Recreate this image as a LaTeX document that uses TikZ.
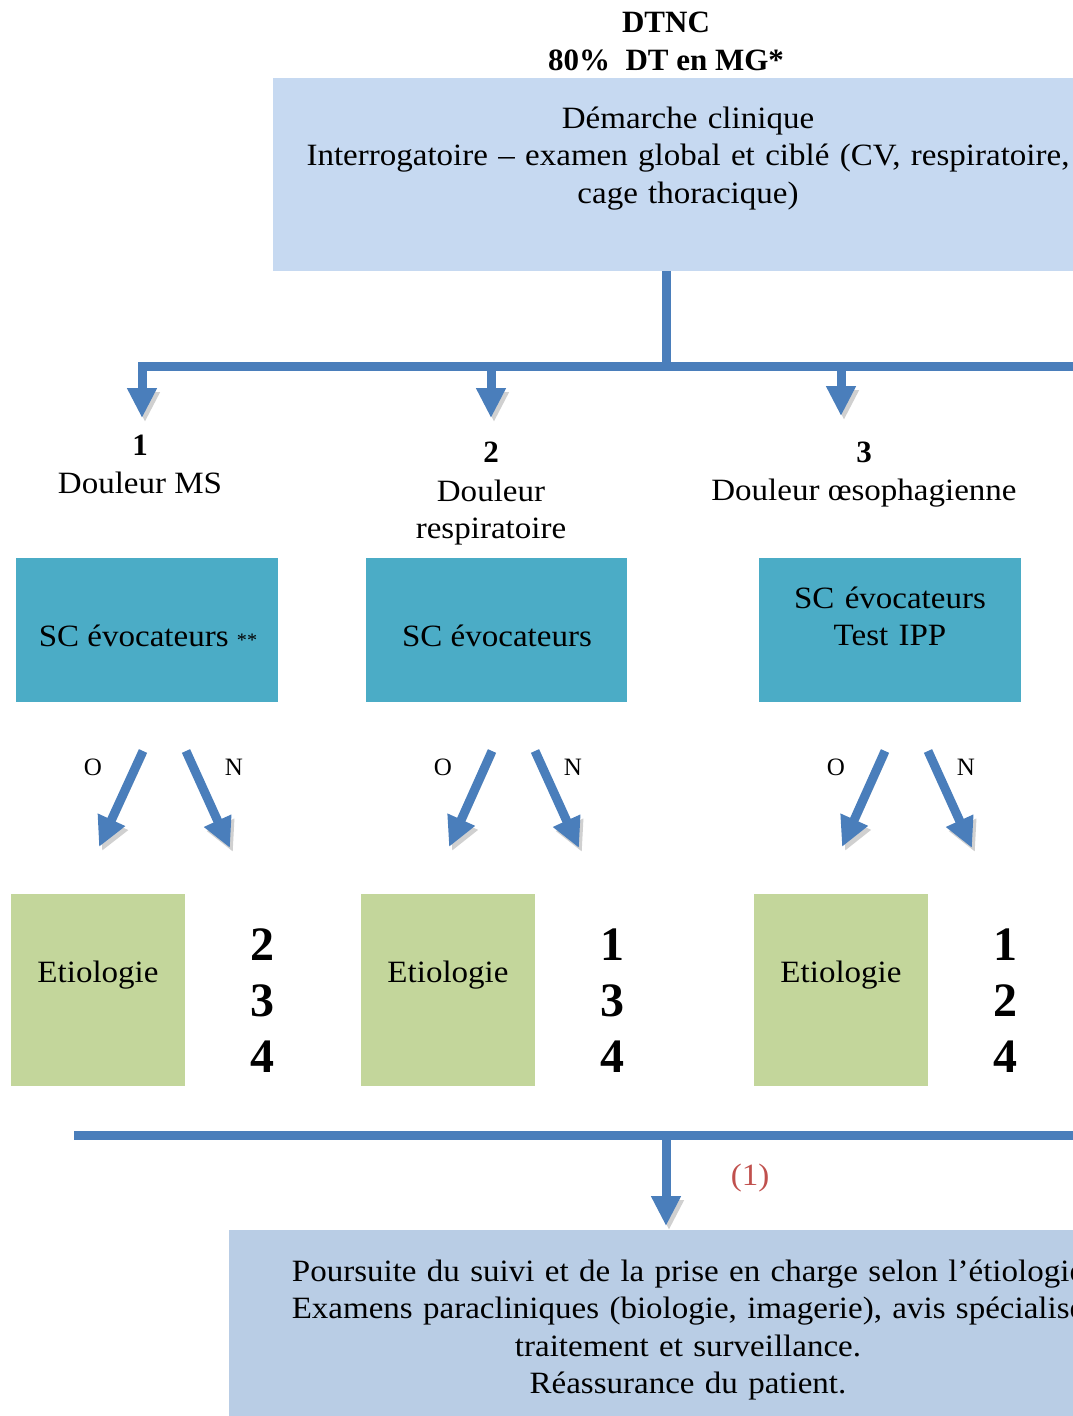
\documentclass[tikz,border=0pt]{standalone}
\usepackage{fontspec}
\setmainfont{Liberation Serif}
\newfontfamily\wfont{Liberation Serif}[FakeStretch=1.065]
\usetikzlibrary{arrows.meta}
\definecolor{arrblue}{HTML}{4A7EBB}
\definecolor{shgrey}{HTML}{D0D0D0}
\definecolor{topblue}{HTML}{C6D9F1}
\definecolor{botblue}{HTML}{B9CDE5}
\definecolor{scteal}{HTML}{4BACC6}
\definecolor{etgreen}{HTML}{C3D69B}
\definecolor{redlab}{HTML}{C0504D}
\begin{document}
\begin{tikzpicture}[x=1pt,y=-1pt,
  flow/.style={draw=arrblue, line width=9pt, line join=miter,
    preaction={draw=shgrey, transform canvas={shift={(3pt,-4pt)}}}},
  arr/.style={flow, -{Triangle[width=28pt,length=30pt]}},
  txt/.style={font=\wfont\fontsize{31}{37.5}\selectfont, inner sep=0pt, anchor=base, align=center},
  btxt/.style={font=\fontsize{31}{37.5}\selectfont\bfseries, inner sep=0pt, anchor=base, align=center},
  big/.style={font=\fontsize{48}{56}\selectfont\bfseries, inner sep=0pt, anchor=base, align=center},
  small/.style={font=\fontsize{25}{30}\selectfont, inner sep=0pt, anchor=base},
  box/.style={anchor=north west, inner sep=0pt, draw=none}
]
\useasboundingbox (0,0) rectangle (1073,1416);

% titles
\node[btxt] (t1) at (666,32) {DTNC};
\node[btxt] (t2) at (666,70) {80\%~ DT en MG*};

% top box
\node[box, fill=topblue, minimum width=830pt, minimum height=193pt] (topbox) at (273,78) {};
\node[txt, text width=900pt] (toptext) at (688,128) {Démarche clinique\\Interrogatoire – examen global et ciblé (CV, respiratoire,\\cage thoracique)};

% connectors top
\coordinate (c0) at (666,271);
\coordinate (j0) at (666,366);
\coordinate (barR) at (1100,366);
\coordinate (b1) at (142,366);
\coordinate (a1) at (142,418);
\coordinate (b2) at (491,366);
\coordinate (a2) at (491,418);
\coordinate (b3) at (841,366);
\coordinate (a3) at (841,416);
\draw[flow] (c0) -- (j0);
\draw[arr] (barR) -- (b1) -- (a1);
\draw[arr] (b2) -- (a2);
\draw[arr] (b3) -- (a3);

% category labels
\node[btxt] (n1) at (140,455) {1};
\node[txt] (l1) at (140,493) {Douleur MS};
\node[btxt] (n2) at (491,462) {2};
\node[txt, text width=300pt] (l2) at (491,501) {Douleur\\respiratoire};
\node[btxt] (n3) at (864,462) {3};
\node[txt] (l3) at (864,500) {Douleur œsophagienne};

% teal boxes
\node[box, fill=scteal, minimum width=262pt, minimum height=144pt] (s1) at (16,558) {};
\node[box, fill=scteal, minimum width=261pt, minimum height=144pt] (s2) at (366,558) {};
\node[box, fill=scteal, minimum width=262pt, minimum height=144pt] (s3) at (759,558) {};
\node[txt] (s1t) at (148,646) {SC évocateurs {\fontsize{19}{20}\selectfont **}};
\node[txt] (s2t) at (497,646) {SC évocateurs};
\node[txt, text width=260pt] (s3t) at (890,608) {SC évocateurs\\Test IPP};

% O / N arrows
\coordinate (o1s) at (143,751); \coordinate (o1e) at (99,847);
\coordinate (n1s) at (186,751); \coordinate (n1e) at (230,848);
\coordinate (o2s) at (492,751); \coordinate (o2e) at (449,847);
\coordinate (n2s) at (535,751); \coordinate (n2e) at (579,848);
\coordinate (o3s) at (885,751); \coordinate (o3e) at (842,847);
\coordinate (n3s) at (928,751); \coordinate (n3e) at (972,848);
\foreach \i in {1,2,3}{
  \draw[arr] (o\i s) -- (o\i e);
  \draw[arr] (n\i s) -- (n\i e);
}
\node[small] (lo1) at (93,775) {O};
\node[small] (ln1) at (234,775) {N};
\node[small] (lo2) at (443,775) {O};
\node[small] (ln2) at (573,775) {N};
\node[small] (lo3) at (836,775) {O};
\node[small] (ln3) at (966,775) {N};

% etiologie boxes
\node[box, fill=etgreen, minimum width=174pt, minimum height=192pt] (e1) at (11,894) {};
\node[box, fill=etgreen, minimum width=174pt, minimum height=192pt] (e2) at (361,894) {};
\node[box, fill=etgreen, minimum width=174pt, minimum height=192pt] (e3) at (754,894) {};
\node[txt] (e1t) at (98,982) {Etiologie};
\node[txt] (e2t) at (448,982) {Etiologie};
\node[txt] (e3t) at (841,982) {Etiologie};

% numbers
\node[big, text width=60pt] (d1) at (262,960) {2\\3\\4};
\node[big, text width=60pt] (d2) at (612,960) {1\\3\\4};
\node[big, text width=60pt] (d3) at (1005,960) {1\\2\\4};

% bottom connectors
\coordinate (bl) at (74,1135);
\coordinate (br) at (1100,1135);
\coordinate (bj) at (666,1135);
\coordinate (ba) at (666,1226);
\draw[flow] (bl) -- (br);
\draw[arr] (bj) -- (ba);
\node[txt, text=redlab] (ref) at (750,1185) {(1)};

% bottom box
\node[box, fill=botblue, minimum width=918pt, minimum height=200pt] (botbox) at (229,1230) {};
\node[txt, text width=950pt] (bottext) at (688,1281) {Poursuite du suivi et de la prise en charge selon l’étiologie\\Examens paracliniques (biologie, imagerie), avis spécialisé\\traitement et surveillance.\\Réassurance du patient.};
\end{tikzpicture}
\end{document}
